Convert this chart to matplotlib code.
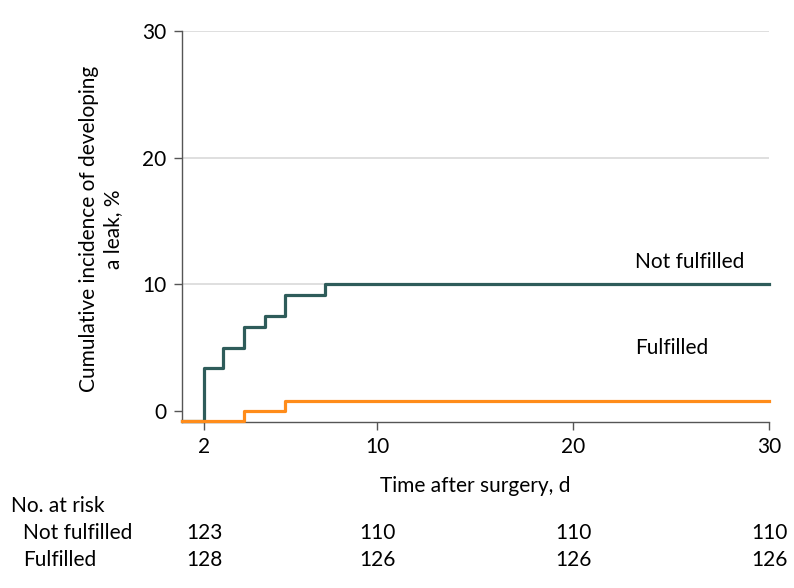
import matplotlib.pyplot as plt
from matplotlib.transforms import blended_transform_factory

# curve values (display units)
not_t = [0, 1.14, 2.13, 3.18, 4.25, 5.27, 7.31, 30]
not_y = [-0.8, 3.35, 4.98, 6.65, 7.52, 9.15, 10.0, 10.0]
ful_t = [0, 3.18, 5.27, 30]
ful_y = [-0.8, 0.0, 0.77, 0.77]

xtick_pos = [1.14, 10, 20, 30]
xtick_lab = ['2', '10', '20', '30']
ytick_pos = [0, 10, 20, 30]

risk_not = [123, 110, 110, 110]
risk_ful = [128, 126, 126, 126]

plt.rcParams['font.family'] = ['Lato', 'DejaVu Sans']
fs = 15

green = '#2e5c5a'
orange = '#ff8c1a'
axcol = '#555555'

fig = plt.figure(figsize=(7.94, 5.88), dpi=100)
ax = fig.add_axes([0.2288, 0.2828, 0.9685 - 0.2288, 0.9473 - 0.2828])

for yv in [10, 20, 30]:
    ax.axhline(yv, color='#dcdcdc', lw=1.3, zorder=0)

ax.plot(not_t, not_y, drawstyle='steps-post', color=green, lw=2.3, clip_on=False, zorder=3)
ax.plot(ful_t, ful_y, drawstyle='steps-post', color=orange, lw=2.3, clip_on=False, zorder=4)

ax.set_xlim(0, 30)
ax.set_ylim(-0.86, 30)
ax.set_xticks(xtick_pos)
ax.set_xticklabels(xtick_lab)
ax.set_yticks(ytick_pos)
ax.tick_params(labelsize=fs, color=axcol, length=6, width=1, pad=5)
for s in ['top', 'right']:
    ax.spines[s].set_visible(False)
for s in ['left', 'bottom']:
    ax.spines[s].set_color(axcol)
    ax.spines[s].set_linewidth(1)

ax.text(23.15, 11.75, 'Not fulfilled', fontsize=fs, ha='left', va='center')
ax.text(23.15, 5.0, 'Fulfilled', fontsize=fs, ha='left', va='center')

fig.text(101 / 794, 1 - 229 / 588, 'Cumulative incidence of developing\na leak, %',
         rotation=90, ha='center', va='center', multialignment='center',
         fontsize=fs, linespacing=1.3)
fig.text(475 / 794, 1 - 486 / 588, 'Time after surgery, d', ha='center', va='center', fontsize=fs)

# number at risk table
fig.text(11 / 794, 1 - 506 / 588, 'No. at risk', ha='left', va='center', fontsize=fs)
fig.text(23 / 794, 1 - 533 / 588, 'Not fulfilled', ha='left', va='center', fontsize=fs)
fig.text(23 / 794, 1 - 560 / 588, 'Fulfilled', ha='left', va='center', fontsize=fs)
tr = blended_transform_factory(ax.transData, fig.transFigure)
for xp, a, b in zip(xtick_pos, risk_not, risk_ful):
    ax.text(xp, 1 - 533 / 588, str(a), transform=tr, ha='center', va='center', fontsize=fs, clip_on=False)
    ax.text(xp, 1 - 560 / 588, str(b), transform=tr, ha='center', va='center', fontsize=fs, clip_on=False)

fig.savefig('out.png', dpi=100)
